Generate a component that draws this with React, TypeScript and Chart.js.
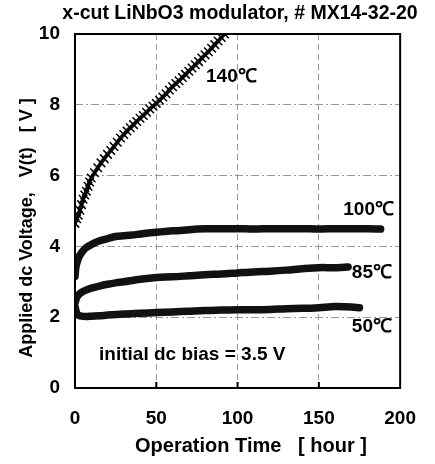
import React, { useEffect, useRef } from "react";
import { Chart, registerables } from "chart.js";

Chart.register(...registerables);

const chartTitle = "x-cut LiNbO3 modulator, # MX14-32-20";
const xAxisTitle = "Operation Time   [ hour ]";
const yAxisTitle = "Applied dc Voltage,   V(t)   [ V ]";
const noteText = "initial dc bias = 3.5 V";

const seriesNames = ["140℃", "100℃", "85℃", "50℃"];

const hours140 = [0, 1, 2, 3, 4, 5, 6, 7, 8, 9, 10, 12, 14, 16, 18, 20, 22, 24, 26, 28, 30, 32, 34, 36, 38, 40, 42, 44, 46, 48, 50, 52, 54, 56, 58, 60, 62, 64, 66, 68, 70, 72, 74, 76, 78, 80, 82, 84, 86, 88, 90, 92];
const volts140 = [4.65, 4.78, 4.88, 5.02, 5.18, 5.33, 5.45, 5.56, 5.7, 5.82, 5.93, 6.08, 6.22, 6.36, 6.48, 6.6, 6.71, 6.82, 6.94, 7.06, 7.16, 7.26, 7.35, 7.44, 7.53, 7.62, 7.7, 7.79, 7.88, 7.96, 8.04, 8.13, 8.22, 8.31, 8.42, 8.51, 8.6, 8.68, 8.77, 8.86, 8.95, 9.04, 9.13, 9.22, 9.32, 9.41, 9.5, 9.6, 9.7, 9.8, 9.9, 10.0];

const hours100 = [0, 0.5, 1, 2, 3, 5, 7, 10, 13, 16, 20, 25, 30, 35, 40, 45, 50, 55, 60, 65, 70, 75, 80, 90, 100, 110, 120, 130, 140, 150, 160, 170, 180, 188];
const volts100 = [3.15, 3.4, 3.5, 3.65, 3.75, 3.88, 3.97, 4.05, 4.12, 4.17, 4.22, 4.28, 4.3, 4.32, 4.35, 4.38, 4.4, 4.42, 4.44, 4.45, 4.47, 4.49, 4.5, 4.5, 4.5, 4.49, 4.5, 4.5, 4.5, 4.49, 4.5, 4.5, 4.5, 4.49];

const hours85 = [0, 1, 2, 4, 6, 10, 15, 20, 25, 30, 40, 50, 60, 70, 80, 90, 100, 110, 120, 130, 140, 150, 160, 168];
const volts85 = [2.4, 2.55, 2.62, 2.7, 2.75, 2.82, 2.88, 2.93, 2.97, 3.0, 3.07, 3.12, 3.14, 3.17, 3.2, 3.22, 3.25, 3.28, 3.3, 3.33, 3.37, 3.4, 3.4, 3.42];

const hours50 = [0, 1, 2, 4, 7, 10, 15, 20, 30, 40, 50, 60, 70, 80, 90, 100, 110, 120, 130, 140, 150, 160, 170, 175];
const volts50 = [2.3, 2.12, 2.06, 2.03, 2.02, 2.03, 2.04, 2.06, 2.09, 2.11, 2.13, 2.15, 2.17, 2.19, 2.2, 2.21, 2.21, 2.22, 2.24, 2.25, 2.27, 2.3, 2.29, 2.27];

const xMin = 0, xMax = 200, xStep = 50;
const yMin = 0, yMax = 10, yStep = 2;

const FONT = '"Liberation Sans", Arial, Helvetica, sans-serif';

function pts(xs: number[], ys: number[]) {
  return xs.map((x, i) => ({ x, y: ys[i] }));
}

const textPlugin = {
  id: "texts",
  afterDraw(chart: any) {
    const { ctx, chartArea: a, scales } = chart;
    const xs = scales.x, ys = scales.y;
    ctx.save();
    ctx.strokeStyle = "#000";
    ctx.lineWidth = 2;
    ctx.strokeRect(a.left, a.top, a.right - a.left, a.bottom - a.top);
    // small inner tick marks on the bottom axis
    for (const v of xs.ticks) {
      if (v.value <= xMin || v.value >= xMax) continue;
      const px = xs.getPixelForValue(v.value);
      ctx.beginPath();
      ctx.moveTo(px, a.bottom);
      ctx.lineTo(px, a.bottom - 6);
      ctx.stroke();
    }
    ctx.fillStyle = "#000";
    ctx.textBaseline = "middle";
    ctx.textAlign = "center";
    ctx.font = `bold 19.5px ${FONT}`;
    ctx.fillText(chartTitle, 240, 14);
    ctx.font = `bold 20px ${FONT}`;
    ctx.fillText(xAxisTitle, 251, 446);
    ctx.save();
    ctx.font = `bold 18px ${FONT}`;
    ctx.translate(32, 228);
    ctx.rotate(-Math.PI / 2);
    ctx.textBaseline = "alphabetic";
    ctx.fillText(yAxisTitle, 0, 0);
    ctx.restore();
    ctx.textAlign = "left";
    ctx.font = `bold 19px ${FONT}`;
    const lab: [string, number, number][] = [
      [seriesNames[0], 80.6, 8.8],
      [seriesNames[1], 165, 5.03],
      [seriesNames[2], 170.3, 3.25],
      [seriesNames[3], 170.3, 1.72],
      [noteText, 14.8, 0.93],
    ];
    for (const [t, hx, vy] of lab) {
      ctx.fillText(t, xs.getPixelForValue(hx), ys.getPixelForValue(vy));
    }
    ctx.restore();
  },
};

export default function App() {
  const ref = useRef<HTMLCanvasElement>(null);
  useEffect(() => {
    if (!ref.current) return;
    const lineStyle = {
      borderColor: "#111",
      backgroundColor: "#111",
      borderWidth: 7.5,
      borderCapStyle: "round" as const,
      borderJoinStyle: "round" as const,
      pointRadius: 0,
      tension: 0.3,
      fill: false,
    };
    const chart = new Chart(ref.current, {
      type: "line",
      data: {
        datasets: [
          {
            label: seriesNames[0],
            data: pts(hours140, volts140),
            borderColor: "#222",
            backgroundColor: "#222",
            borderWidth: 4,
            pointStyle: "crossRot",
            pointRadius: 6,
            pointBorderWidth: 1.5,
            pointBorderColor: "#000",
            tension: 0.3,
            fill: false,
          },
          { label: seriesNames[1], data: pts(hours100, volts100), ...lineStyle },
          { label: seriesNames[2], data: pts(hours85, volts85), ...lineStyle },
          { label: seriesNames[3], data: pts(hours50, volts50), ...lineStyle },
        ],
      },
      options: {
        animation: false,
        responsive: false,
        layout: { padding: { top: 34, right: 17, left: 0, bottom: 0 } },
        plugins: { legend: { display: false }, tooltip: { enabled: false }, title: { display: false } },
        scales: {
          x: {
            type: "linear",
            min: xMin,
            max: xMax,
            afterFit: (s: any) => { s.height = 76; },
            ticks: { stepSize: xStep, color: "#000", font: { family: FONT, size: 19, weight: "bold" }, padding: 19 },
            grid: { color: "#999", lineWidth: 1, drawTicks: false },
            border: { display: false, dash: [6, 4] },
          },
          y: {
            type: "linear",
            min: yMin,
            max: yMax,
            afterFit: (s: any) => { s.width = 75; },
            ticks: { stepSize: yStep, color: "#000", font: { family: FONT, size: 19, weight: "bold" }, padding: 15 },
            grid: { color: "#999", lineWidth: 1, drawTicks: false },
            border: { display: false, dash: [8, 3, 2, 3] },
          },
        },
      },
      plugins: [textPlugin],
    });
    return () => chart.destroy();
  }, []);
  return (
    <div style={{ position: "fixed", left: 0, top: 0, width: 435, height: 464, background: "#fff" }}>
      <canvas ref={ref} width={435} height={464} />
    </div>
  );
}
